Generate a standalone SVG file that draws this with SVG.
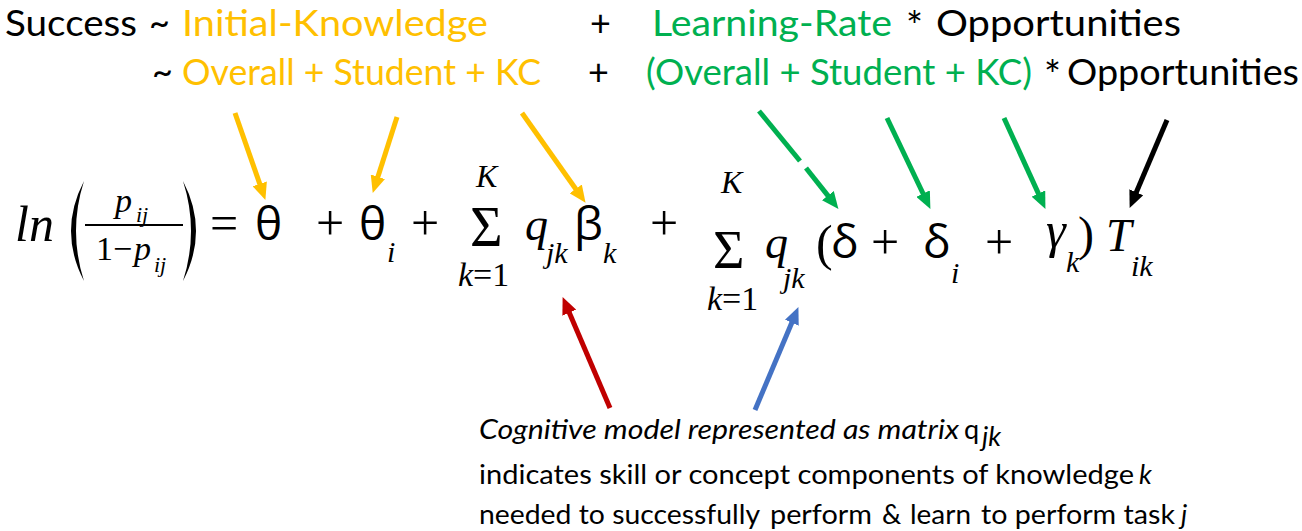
<svg xmlns="http://www.w3.org/2000/svg" width="1302" height="531" viewBox="0 0 1302 531">
<style>
.t{font-family:Lato,"Open Sans","Liberation Sans",sans-serif;font-size:36px;fill:#000}
.st{font-size:40px}
.or{fill:#FFC000}.gn{fill:#00B050}.rd{fill:#C00000}.bl{fill:#4472C4}
.mi{font-family:"Liberation Serif",serif;font-style:italic;fill:#000}
.mu{font-family:"Liberation Serif",serif;fill:#000}
.gr{font-family:"Open Sans","DejaVu Sans",sans-serif;fill:#000}
.cap{font-family:Lato,"Open Sans","Liberation Sans",sans-serif;font-size:27px;fill:#000}
.it{font-style:italic}
.a{stroke-width:5;fill:none}
.ao{stroke:#FFC000;marker-end:url(#mo)}
.ag{stroke:#00B050;marker-end:url(#mg)}
.ak{stroke:#000;marker-end:url(#mk)}
.ar{stroke:#C00000;marker-end:url(#mr)}
.ab{stroke:#4472C4;marker-end:url(#mb)}
</style>
<defs>
<marker id="mo" markerUnits="userSpaceOnUse" markerWidth="17" markerHeight="15" refX="1" refY="7.5" orient="auto"><path d="M0,0L17,7.5L0,15Z" fill="#FFC000"/></marker>
<marker id="mg" markerUnits="userSpaceOnUse" markerWidth="17" markerHeight="15" refX="1" refY="7.5" orient="auto"><path d="M0,0L17,7.5L0,15Z" fill="#00B050"/></marker>
<marker id="mk" markerUnits="userSpaceOnUse" markerWidth="17" markerHeight="15" refX="1" refY="7.5" orient="auto"><path d="M0,0L17,7.5L0,15Z" fill="#000"/></marker>
<marker id="mr" markerUnits="userSpaceOnUse" markerWidth="17" markerHeight="15" refX="1" refY="7.5" orient="auto"><path d="M0,0L17,7.5L0,15Z" fill="#C00000"/></marker>
<marker id="mb" markerUnits="userSpaceOnUse" markerWidth="17" markerHeight="15" refX="1" refY="7.5" orient="auto"><path d="M0,0L17,7.5L0,15Z" fill="#4472C4"/></marker>
</defs>
<rect width="1302" height="531" fill="#fff"/>

<g id="model-line1">
<text class="t" x="5" y="36" textLength="132" lengthAdjust="spacingAndGlyphs">Success</text>
<text class="t" x="149" y="36">~</text>
<text class="t or" x="182" y="36" textLength="306" lengthAdjust="spacingAndGlyphs">Initial-Knowledge</text>
<text class="t" x="590" y="36">+</text>
<text class="t gn" x="652" y="36" textLength="240" lengthAdjust="spacingAndGlyphs">Learning-Rate</text>
<text class="t st" x="906" y="41">*</text>
<text class="t" x="936" y="36" textLength="245" lengthAdjust="spacingAndGlyphs">Opportunities</text>
</g>
<g id="model-line2">
<text class="t" x="152" y="85">~</text>
<text class="t or" x="182" y="85" textLength="359" lengthAdjust="spacingAndGlyphs">Overall + Student + KC</text>
<text class="t" x="588" y="85">+</text>
<text class="t gn" x="646" y="85" textLength="386" lengthAdjust="spacingAndGlyphs">(Overall + Student + KC)</text>
<text class="t st" x="1044" y="90">*</text>
<text class="t" x="1067" y="85" textLength="232" lengthAdjust="spacingAndGlyphs">Opportunities</text>
</g>

<g id="equation">
<text class="mi" x="15" y="241" font-size="50">ln</text>
<path d="M84,181 Q58,231 84,281 Q68,231 84,181Z" fill="#000"/>
<path d="M183,181 Q209,231 183,281 Q199,231 183,181Z" fill="#000"/>
<text class="mi" x="115" y="212" font-size="34">p</text>
<text class="mi" x="136" y="222" font-size="22">ij</text>
<line x1="85" y1="225" x2="183" y2="225" stroke="#000" stroke-width="2"/>
<text class="mu" x="96" y="260" font-size="34">1−</text>
<text class="mi" x="134" y="260" font-size="34">p</text>
<text class="mi" x="154" y="272" font-size="22">ij</text>
<text class="mu" x="210" y="240" font-size="50">=</text>
<text class="gr" x="255" y="240" font-size="46">θ</text>
<text class="mu" x="316" y="240" font-size="50">+</text>
<text class="gr" x="359" y="240" font-size="46">θ</text>
<text class="mi" x="387" y="262" font-size="30">i</text>
<text class="mu" x="411" y="240" font-size="50">+</text>
<text class="mi" x="476" y="187" font-size="32">K</text>
<text class="mu" x="470" y="246" font-size="56">Σ</text>
<text x="458" y="286" font-size="34"><tspan class="mi">k</tspan><tspan class="mu">=1</tspan></text>
<text class="mi" x="525" y="240" font-size="46">q</text>
<text class="mi" x="546" y="263" font-size="30">jk</text>
<text class="gr" x="574" y="240" font-size="46">β</text>
<text class="mi" x="603" y="263" font-size="30">k</text>
<text class="mu" x="650" y="240" font-size="50">+</text>
<text class="mi" x="721" y="193" font-size="32">K</text>
<text class="mu" x="713" y="268" font-size="54">Σ</text>
<text x="707" y="310" font-size="34"><tspan class="mi">k</tspan><tspan class="mu">=1</tspan></text>
<text class="mi" x="765" y="258" font-size="46">q</text>
<text class="mi" x="783" y="288" font-size="30">jk</text>
<text class="mu" x="816" y="260" font-size="50">(</text>
<text class="gr" x="831" y="258" font-size="46">δ</text>
<text class="mu" x="871" y="259" font-size="50">+</text>
<text class="gr" x="923" y="258" font-size="46">δ</text>
<text class="mi" x="951" y="283" font-size="30">i</text>
<text class="mu" x="985" y="259" font-size="50">+</text>
<text class="mi" x="1046" y="247" font-size="50">γ</text>
<text class="mi" x="1066" y="272" font-size="30">k</text>
<text class="mu" x="1078" y="250" font-size="48">)</text>
<text class="mi" x="1106" y="251" font-size="46">T</text>
<text class="mi" x="1131" y="276" font-size="30">ik</text>
</g>

<g id="caption">
<text class="cap it" x="479" y="439" textLength="480" lengthAdjust="spacingAndGlyphs">Cognitive model represented as matrix</text>
<text class="cap" x="964" y="439">q</text>
<text class="cap it" x="982" y="446" font-size="19">jk</text>
<text class="cap" x="479" y="484" textLength="655" lengthAdjust="spacingAndGlyphs">indicates skill or concept components of knowledge</text>
<text class="cap it" x="1139" y="484">k</text>
<text class="cap" x="479" y="524" textLength="281" lengthAdjust="spacingAndGlyphs">needed to successfully</text>
<text class="cap rd" x="770" y="524" textLength="102" lengthAdjust="spacingAndGlyphs">perform</text>
<text class="cap" x="882" y="524">&amp;</text>
<text class="cap bl" x="910" y="524" textLength="61" lengthAdjust="spacingAndGlyphs">learn</text>
<text class="cap" x="981" y="524" textLength="194" lengthAdjust="spacingAndGlyphs">to perform task</text>
<text class="cap it" x="1181" y="524">j</text>
</g>

<g id="connectors">
<line class="a ao" x1="235" y1="113" x2="260.1" y2="184.8"/>
<line class="a ao" x1="397" y1="117" x2="377.6" y2="177.7"/>
<line class="a ao" x1="522" y1="113" x2="576.3" y2="189.7"/>
<line class="a" stroke="#00B050" x1="759" y1="111" x2="800" y2="161"/>
<line class="a ag" x1="806" y1="168" x2="828.5" y2="196.4"/>
<line class="a ag" x1="887" y1="118" x2="923.5" y2="194.5"/>
<line class="a ag" x1="1004" y1="118" x2="1038.8" y2="194.4"/>
<line class="a ak" x1="1167" y1="120" x2="1135.9" y2="193.2"/>
<line class="a ar" x1="610" y1="408" x2="568.9" y2="311.8"/>
<line class="a ab" x1="755" y1="410" x2="792.2" y2="321.8"/>
</g>
</svg>
